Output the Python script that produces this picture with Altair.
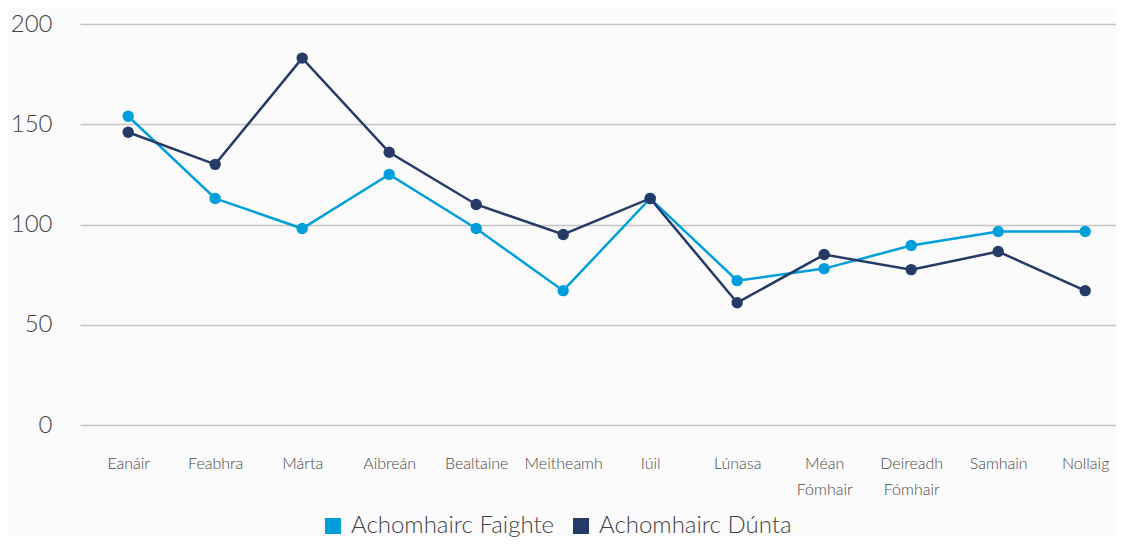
import altair as alt
import pandas as pd

months = ["Eanáir", "Feabhra", "Márta", "Aibreán", "Bealtaine", "Meitheamh",
          "Iúil", "Lúnasa", "Méan Fómhair", "Deireadh Fómhair", "Samhain", "Nollaig"]
series_names = ["Achomhairc Faighte", "Achomhairc Dúnta"]
faighte = [154, 113, 98, 125, 98, 67, 113, 72, 78, 89.5, 96.5, 96.5]
dunta = [146, 130, 183, 136, 110, 95, 113, 61, 85, 77.5, 86.5, 67]
colors = ["#009fdc", "#263a67"]
y_ticks = [0, 50, 100, 150, 200]

rows = []
for m, v in zip(months, faighte):
    rows.append({"month": m, "series": series_names[0], "value": v})
for m, v in zip(months, dunta):
    rows.append({"month": m, "series": series_names[1], "value": v})
df = pd.DataFrame(rows)

FONT = "Lato"

x = alt.X("month:N", sort=months, title=None,
          scale=alt.Scale(type="point", padding=0.454, align=0.61),
          axis=alt.Axis(labelAngle=0, domain=False, ticks=False, grid=False,
                        labelFontSize=16, labelFont=FONT, labelFontWeight=300,
                        labelColor="#4a4a4a", labelPadding=30, labelLineHeight=26,
                        labelExpr="split(datum.label, ' ')"))
y = alt.Y("value:Q", title=None,
          scale=alt.Scale(domain=[0, 200], nice=False),
          axis=alt.Axis(values=y_ticks, domain=False, ticks=False, grid=True,
                        gridColor="#c4c4c4", gridWidth=1.5,
                        labelFontSize=24, labelFont=FONT, labelFontWeight=300,
                        labelColor="#444444", labelPadding=28))
color = alt.Color("series:N", sort=series_names, title=None,
                  scale=alt.Scale(domain=series_names, range=colors),
                  legend=alt.Legend(orient="none", legendX=241, legendY=490,
                                    direction="horizontal", symbolType="square",
                                    symbolSize=256, symbolStrokeWidth=0,
                                    labelFontSize=24, labelFont=FONT,
                                    labelFontWeight=300, labelColor="#444444",
                                    labelLimit=0,
                                    labelOffset=6, columnPadding=14, padding=0))

base = alt.Chart(df).encode(x=x, y=y, color=color)
lines = base.mark_line(strokeWidth=2.5)
points = base.mark_circle(size=130, opacity=1)

chart = (lines + points).properties(
    width=1036, height=401,
    background="#fbfbfb",
    autosize=alt.AutoSizeParams(type="none"),
    padding={"left": 72, "top": 16, "right": 0, "bottom": 112},
).configure_view(stroke=None)

chart.save("out.html", embed_options={"renderer": "svg", "actions": False})
